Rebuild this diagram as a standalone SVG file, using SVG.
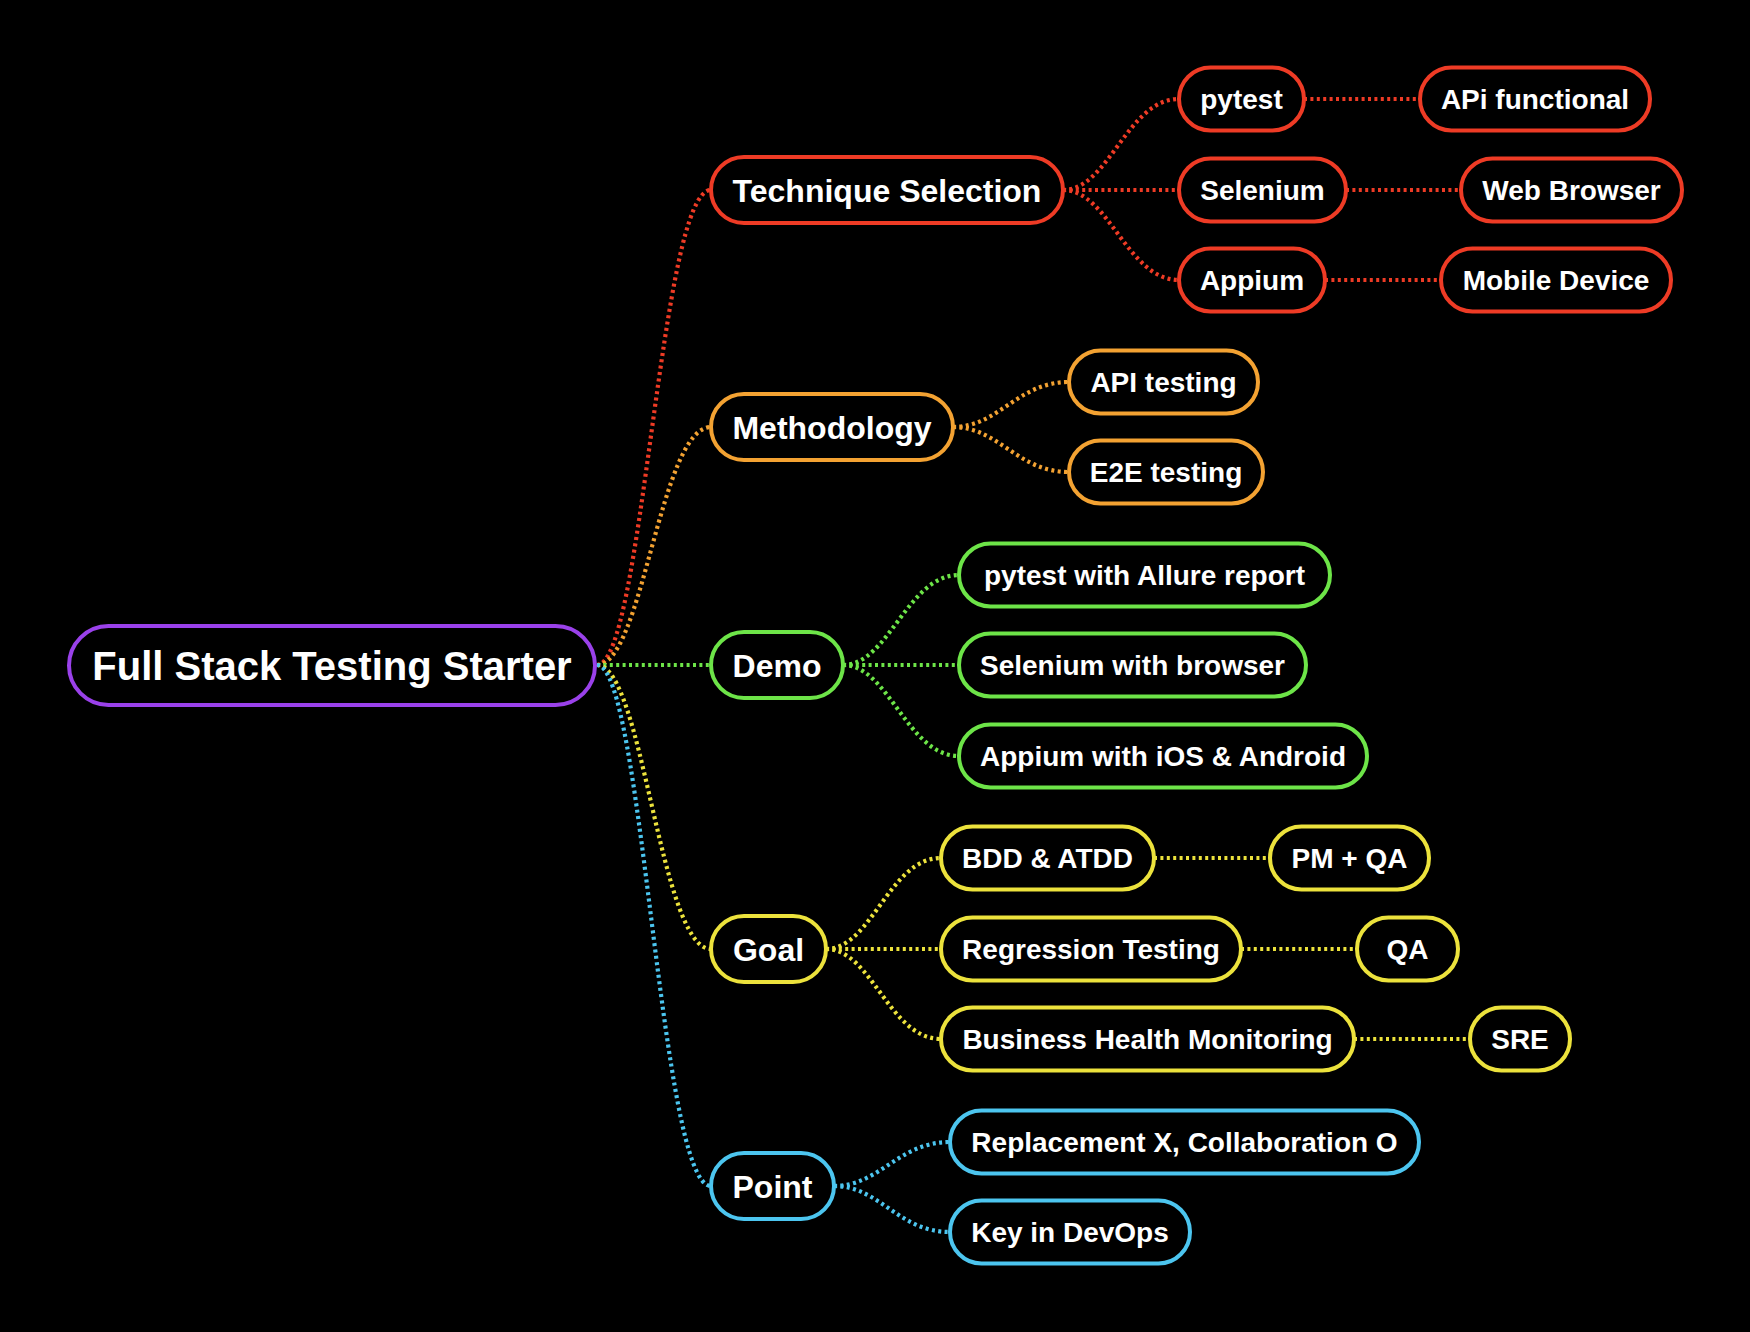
<svg xmlns="http://www.w3.org/2000/svg" width="1750" height="1332" viewBox="0 0 1750 1332">
<style>
.bg{fill:#000}
.n{fill:#000;stroke-width:4}
.t{fill:#fff;font-family:"Liberation Sans",Arial,Helvetica,sans-serif;font-weight:bold;text-anchor:middle}
.t0{font-size:40px}
.t1{font-size:32px}
.t2{font-size:28px}
.c{fill:none;stroke-width:4.2;stroke-dasharray:3 3.4}
.red{stroke:#ee3b25}
.org{stroke:#f3a232}
.grn{stroke:#6de448}
.yel{stroke:#ece23c}
.blu{stroke:#4cc5ef}
.pur{stroke:#9a41ea}
</style>
<rect class="bg" x="0" y="0" width="1750" height="1332"/>
<g id="connectors">
  <path class="c red" d="M597 665 C643 665 660 190 711 190"/>
  <path class="c org" d="M597 665 C643 665 660 427 711 427"/>
  <path class="c grn" d="M597 665 L711 665"/>
  <path class="c yel" d="M597 665 C643 665 660 949 711 949"/>
  <path class="c blu" d="M597 665 C643 665 660 1186 711 1186"/>

  <path class="c red" d="M1063 190 C1109 190 1127 99 1179 99"/>
  <path class="c red" d="M1063 190 L1179 190"/>
  <path class="c red" d="M1063 190 C1109 190 1127 280 1179 280"/>
  <path class="c red" d="M1304 99 L1420 99"/>
  <path class="c red" d="M1346 190 L1461 190"/>
  <path class="c red" d="M1325 280 L1441 280"/>

  <path class="c org" d="M953 427 C999 427 1017 382 1069 382"/>
  <path class="c org" d="M953 427 C999 427 1017 472 1069 472"/>

  <path class="c grn" d="M843 665 C889 665 907 575 959 575"/>
  <path class="c grn" d="M843 665 L959 665"/>
  <path class="c grn" d="M843 665 C889 665 907 756 959 756"/>

  <path class="c yel" d="M826 949 C872 949 889 858 941 858"/>
  <path class="c yel" d="M826 949 L941 949"/>
  <path class="c yel" d="M826 949 C872 949 889 1039 941 1039"/>
  <path class="c yel" d="M1154 858 L1270 858"/>
  <path class="c yel" d="M1241 949 L1357 949"/>
  <path class="c yel" d="M1354 1039 L1470 1039"/>

  <path class="c blu" d="M834 1186 C880 1186 898 1142 950 1142"/>
  <path class="c blu" d="M834 1186 C880 1186 898 1232 950 1232"/>
</g>
<g id="root"><rect class="n pur" x="69" y="626" width="526" height="79" rx="39.5"/><text class="t t0" x="332" y="679.5">Full Stack Testing Starter</text></g>

<g id="technique"><rect class="n red" x="711" y="157" width="352" height="66" rx="33"/><text class="t t1" x="887" y="201.5">Technique Selection</text></g>
<g id="methodology"><rect class="n org" x="711" y="394" width="242" height="66" rx="33"/><text class="t t1" x="832" y="438.5">Methodology</text></g>
<g id="demo"><rect class="n grn" x="711" y="632" width="132" height="66" rx="33"/><text class="t t1" x="777" y="676.5">Demo</text></g>
<g id="goal"><rect class="n yel" x="711" y="916" width="115" height="66" rx="33"/><text class="t t1" x="768.5" y="960.5">Goal</text></g>
<g id="point"><rect class="n blu" x="711" y="1153" width="123" height="66" rx="33"/><text class="t t1" x="772.5" y="1197.5">Point</text></g>

<g id="pytest"><rect class="n red" x="1179" y="67.5" width="125" height="63" rx="31.5"/><text class="t t2" x="1241.5" y="109">pytest</text></g>
<g id="selenium"><rect class="n red" x="1179" y="158.5" width="167" height="63" rx="31.5"/><text class="t t2" x="1262.5" y="200">Selenium</text></g>
<g id="appium"><rect class="n red" x="1179" y="248.5" width="146" height="63" rx="31.5"/><text class="t t2" x="1252" y="290">Appium</text></g>
<g id="api-functional"><rect class="n red" x="1420" y="67.5" width="230" height="63" rx="31.5"/><text class="t t2" x="1535" y="109">APi functional</text></g>
<g id="web-browser"><rect class="n red" x="1461" y="158.5" width="221" height="63" rx="31.5"/><text class="t t2" x="1571.5" y="200">Web Browser</text></g>
<g id="mobile-device"><rect class="n red" x="1441" y="248.5" width="230" height="63" rx="31.5"/><text class="t t2" x="1556" y="290">Mobile Device</text></g>

<g id="api-testing"><rect class="n org" x="1069" y="350.5" width="189" height="63" rx="31.5"/><text class="t t2" x="1163.5" y="392">API testing</text></g>
<g id="e2e-testing"><rect class="n org" x="1069" y="440.5" width="194" height="63" rx="31.5"/><text class="t t2" x="1166" y="482">E2E testing</text></g>

<g id="pytest-allure"><rect class="n grn" x="959" y="543.5" width="371" height="63" rx="31.5"/><text class="t t2" x="1144.5" y="585">pytest with Allure report</text></g>
<g id="selenium-browser"><rect class="n grn" x="959" y="633.5" width="347" height="63" rx="31.5"/><text class="t t2" x="1132.5" y="675">Selenium with browser</text></g>
<g id="appium-ios-android"><rect class="n grn" x="959" y="724.5" width="408" height="63" rx="31.5"/><text class="t t2" x="1163" y="766">Appium with iOS &amp; Android</text></g>

<g id="bdd-atdd"><rect class="n yel" x="941" y="826.5" width="213" height="63" rx="31.5"/><text class="t t2" x="1047.5" y="868">BDD &amp; ATDD</text></g>
<g id="regression"><rect class="n yel" x="941" y="917.5" width="300" height="63" rx="31.5"/><text class="t t2" x="1091" y="959">Regression Testing</text></g>
<g id="business-health"><rect class="n yel" x="941" y="1007.5" width="413" height="63" rx="31.5"/><text class="t t2" x="1147.5" y="1049">Business Health Monitoring</text></g>
<g id="pm-qa"><rect class="n yel" x="1270" y="826.5" width="159" height="63" rx="31.5"/><text class="t t2" x="1349.5" y="868">PM + QA</text></g>
<g id="qa"><rect class="n yel" x="1357" y="917.5" width="101" height="63" rx="31.5"/><text class="t t2" x="1407.5" y="959">QA</text></g>
<g id="sre"><rect class="n yel" x="1470" y="1007.5" width="100" height="63" rx="31.5"/><text class="t t2" x="1520" y="1049">SRE</text></g>

<g id="replacement"><rect class="n blu" x="950" y="1110.5" width="469" height="63" rx="31.5"/><text class="t t2" x="1184.5" y="1152">Replacement X, Collaboration O</text></g>
<g id="key-devops"><rect class="n blu" x="950" y="1200.5" width="240" height="63" rx="31.5"/><text class="t t2" x="1070" y="1242">Key in DevOps</text></g>
</svg>
